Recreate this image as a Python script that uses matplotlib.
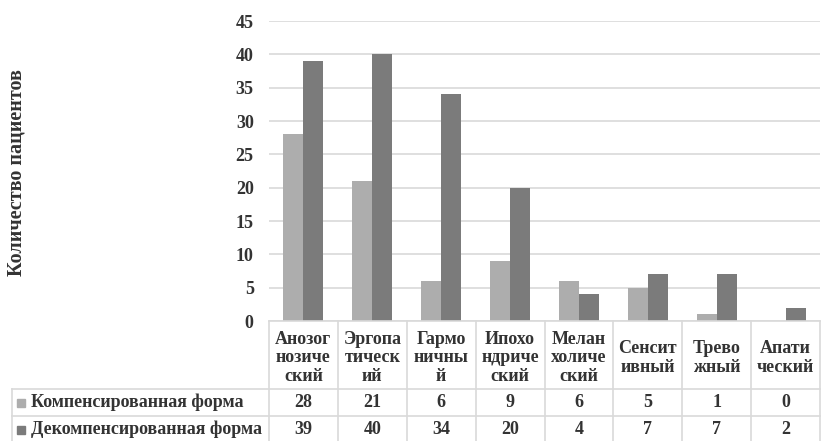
import matplotlib.pyplot as plt
import matplotlib.transforms as mtransforms
import numpy as np

plt.rcParams['font.family'] = ['Liberation Serif', 'DejaVu Serif']
plt.rcParams['font.weight'] = 'bold'

categories = ['Анозогнозический', 'Эргопатический', 'Гармоничный', 'Ипохондрический',
              'Меланхолический', 'Сенситивный', 'Тревожный', 'Апатический']
column_labels = ['Анозог\nнозиче\nский', 'Эргопа\nтическ\nий', 'Гармо\nничны\nй',
                 'Ипохо\nндриче\nский', 'Мелан\nхоличе\nский', 'Сенсит\nивный',
                 'Трево\nжный', 'Апати\nческий']
series_names = ['Компенсированная форма', 'Декомпенсированная форма']
compensated = [28, 21, 6, 9, 6, 5, 1, 0]
decompensated = [39, 40, 34, 20, 4, 7, 7, 2]

LIGHT = '#adadad'
DARK = '#7b7b7b'
TEXT = '#333333'
GRID = '#d9d9d9'
FS = 13

W, H = 836, 441
fig = plt.figure(figsize=(W / 100, H / 100), dpi=100)
left, right, y0, y45 = 269, 820, 321, 21
ax = fig.add_axes([left / W, 1 - y0 / H, (right - left) / W, (y0 - y45) / H])

x = np.arange(len(categories))
bw = 0.29
ax.bar(x - bw / 2, compensated, bw, color=LIGHT, zorder=3)
ax.bar(x + bw / 2, decompensated, bw, color=DARK, zorder=3)

ax.set_xlim(-0.5, len(categories) - 0.5)
ax.set_ylim(0, 45)
ax.set_yticks(np.arange(0, 46, 5))
ax.yaxis.grid(True, color=GRID, linewidth=1.2, zorder=0)
ax.tick_params(axis='y', length=0, pad=11, labelsize=FS, labelcolor=TEXT)
ax.tick_params(axis='x', length=0, labelbottom=False)
for s in ax.spines.values():
    s.set_visible(False)

fig.text(17 / W, 1 - 173 / H, 'Количество пациентов', rotation=90, ha='center',
         va='center', fontsize=14.5, color=TEXT)

# data table under the plot: x in data units, y in pixels from the top
trans = mtransforms.blended_transform_factory(ax.transData, fig.transFigure)
colw = (right - left) / len(categories)
x_leg = -0.5 - (left - 12) / colw
rows_px = [321, 389, 416, 443]


def fy(py):
    return 1 - py / H


line_kw = dict(color=GRID, linewidth=1.2, transform=trans, clip_on=False)
n = len(categories)
fig.add_artist(plt.Line2D([-0.5, n - 0.5], [fy(321)] * 2, **line_kw))
for py in rows_px[1:]:
    fig.add_artist(plt.Line2D([x_leg, n - 0.5], [fy(py)] * 2, **line_kw))
for i in range(n + 1):
    fig.add_artist(plt.Line2D([i - 0.5] * 2, [fy(321), fy(443)], **line_kw))
fig.add_artist(plt.Line2D([x_leg] * 2, [fy(389), fy(443)], **line_kw))

for i, lab in enumerate(column_labels):
    fig.text(i, fy(358), lab, transform=trans, ha='center', va='center',
             fontsize=FS, color=TEXT, linespacing=1.08)

for r, (name, vals, col) in enumerate(zip(series_names, [compensated, decompensated], [LIGHT, DARK])):
    yc = fy((rows_px[r + 1] + rows_px[r + 2]) / 2)
    fig.patches.append(plt.Rectangle((17 / W, yc - 4 / H), 8 / W, 8 / H, color=col,
                                     transform=fig.transFigure))
    fig.text(31 / W, yc, name, ha='left', va='center', fontsize=FS, color=TEXT)
    for i, v in enumerate(vals):
        fig.text(i, yc, str(v), transform=trans, ha='center', va='center',
                 fontsize=FS, color=TEXT)

fig.savefig('out.png', dpi=100)
